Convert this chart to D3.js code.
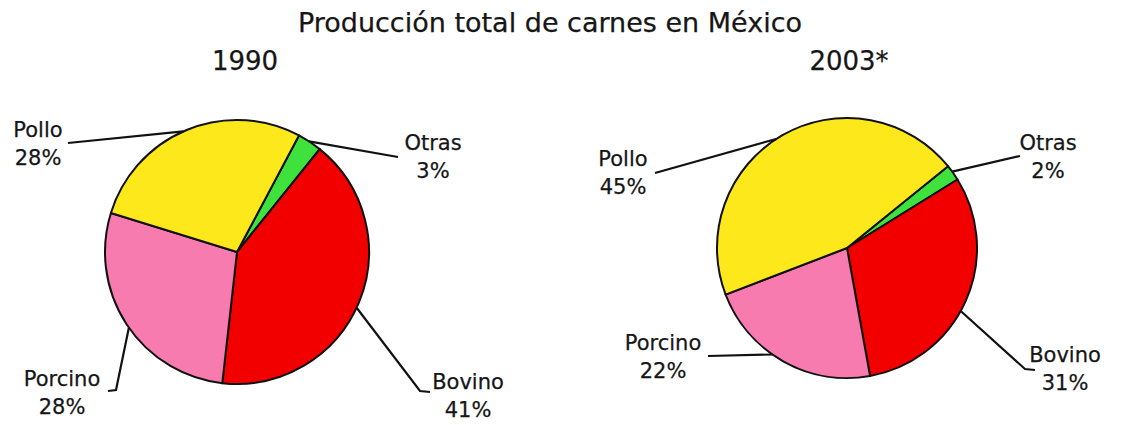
<!DOCTYPE html>
<html>
<head>
<meta charset="utf-8">
<script src="https://cdn.jsdelivr.net/npm/d3@7"></script>
<style>
  html, body { margin: 0; padding: 0; background: #ffffff; }
  svg { display: block; }
  text { font-family: "DejaVu Sans", Verdana, sans-serif; fill: #161616; stroke: #161616; stroke-width: 0.25px; }
</style>
</head>
<body>
<svg id="chart" width="1121" height="425"></svg>
<script>
// Meat production shares in Mexico, by type (percent)
const categories = ["Otras", "Bovino", "Porcino", "Pollo"];
const years = ["1990", "2003*"];
const share1990 = [3, 41, 28, 28];
const share2003 = [2, 31, 22, 45];
const colors = ["#3fe23c", "#f20000", "#f77bae", "#fde81c"];
const title = "Producción total de carnes en México";

const W = 1121, H = 425;
const svg = d3.select("#chart");

svg.append("text")
  .attr("x", 550).attr("y", 32)
  .attr("text-anchor", "middle")
  .style("font-size", "27px")
  .text(title);

// layout of each pie: centre, radius, rotation of the first slice, label placement
const pies = [
  {
    year: years[0], values: share1990, cx: 237, cy: 252, r: 132, start: 28, yearX: 245,
    labels: [
      { tx: 433, ty: 150, edge: 33, pts: [[398, 157]] },
      { tx: 468, ty: 389, edge: 115, pts: [[420, 391], [430, 392]] },
      { tx: 62, ty: 386, edge: 235, pts: [[116, 390], [108, 391]] },
      { tx: 38, ty: 137, edge: 336, pts: [[68, 143]] }
    ]
  },
  {
    year: years[1], values: share2003, cx: 847, cy: 248, r: 130, start: 51, yearX: 849,
    labels: [
      { tx: 1048, ty: 150, edge: 54, pts: [[1020, 156]] },
      { tx: 1065, ty: 362, edge: 119, pts: [[1025, 369], [1035, 370]] },
      { tx: 663, ty: 350, edge: 215, pts: [[708, 356]] },
      { tx: 623, ty: 166, edge: 327, pts: [[655, 173]] }
    ]
  }
];

const rad = Math.PI / 180;
const color = d3.scaleOrdinal().domain(categories).range(colors);

pies.forEach(p => {
  svg.append("text")
    .attr("x", p.yearX).attr("y", 70)
    .attr("text-anchor", "middle")
    .style("font-size", "26px")
    .text(p.year);

  const pie = d3.pie()
    .sort(null)
    .value(d => d.v)
    .startAngle(p.start * rad)
    .endAngle((p.start + 360) * rad);

  const arcs = pie(categories.map((c, i) => ({ c, v: p.values[i] })));
  const arc = d3.arc().innerRadius(0).outerRadius(p.r);

  const g = svg.append("g").attr("transform", `translate(${p.cx},${p.cy})`);
  g.selectAll("path")
    .data(arcs)
    .join("path")
    .attr("d", arc)
    .attr("fill", d => color(d.data.c))
    .attr("stroke", "#111")
    .attr("stroke-width", 2)
    .attr("stroke-linejoin", "round");

  // leader lines and labels
  arcs.forEach((a, i) => {
    const L = p.labels[i];
    const ang = L.edge * rad;
    const ex = p.cx + p.r * Math.sin(ang);
    const ey = p.cy - p.r * Math.cos(ang);
    const line = d3.line();
    svg.append("path")
      .attr("d", line([[ex, ey], ...L.pts]))
      .attr("fill", "none")
      .attr("stroke", "#111")
      .attr("stroke-width", 2.2);

    const t = svg.append("text")
      .attr("text-anchor", "middle")
      .style("font-size", "21px");
    t.append("tspan").attr("x", L.tx).attr("y", L.ty).text(a.data.c);
    t.append("tspan").attr("x", L.tx).attr("y", L.ty + 28).text(a.data.v + "%");
  });
});
</script>
</body>
</html>
